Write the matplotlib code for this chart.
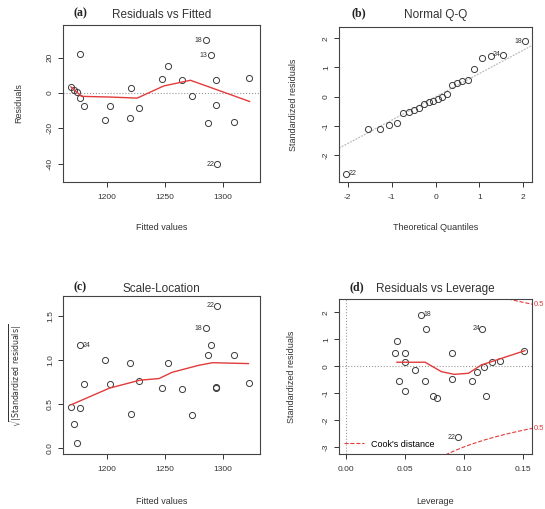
import numpy as np
import matplotlib
matplotlib.use('Agg')
from matplotlib import pyplot as plt
from statistics import NormalDist

plt.rcParams['font.family'] = ['Liberation Sans', 'DejaVu Sans']
plt.rcParams['axes.unicode_minus'] = False

# (a) residuals vs fitted
fitted = [1168.9, 1171.4, 1173.7, 1176.6, 1177.1, 1180.0, 1198.0, 1202.9,
          1220.0, 1221.0, 1227.4, 1247.4, 1252.3, 1264.3, 1273.1, 1285.0,
          1289.4, 1287.4, 1294.3, 1294.3, 1309.4, 1322.9, 1295.0]
resid = [3.4, 1.9, 0.4, 21.9, -2.9, -7.6, -15.2, -7.6, -14.3, 2.9, -8.6,
         8.0, 15.2, 7.2, -1.9, 29.9, 21.3, -17.1, 7.6, -6.9, -16.2, 8.6, -40.4]
# (c) sqrt(|standardized residuals|), same order as fitted
sqrt_std = [0.47, 0.27, 0.06, 1.17, 0.45, 0.73, 1.00, 0.73, 0.97, 0.39, 0.76,
            0.68, 0.97, 0.67, 0.37, 1.36, 1.17, 1.06, 0.68, 0.69, 1.06, 0.74, 1.62]
# (b) sorted standardized residuals
qq_std = [-2.64, -1.11, -1.11, -0.98, -0.92, -0.57, -0.54, -0.46, -0.38,
          -0.26, -0.20, -0.15, -0.08, 0.00, 0.08, 0.40, 0.46, 0.52, 0.57,
          0.94, 1.34, 1.40, 1.44, 1.90]
# (d) leverage and standardized residuals
leverage = [0.0432, 0.0420, 0.0497, 0.0497, 0.0446, 0.0497, 0.0588, 0.0640,
            0.0678, 0.0672, 0.0740, 0.0770, 0.0898, 0.0898, 0.1068, 0.1155,
            0.1110, 0.1170, 0.1240, 0.1310, 0.1190, 0.1510, 0.0950]
std_lev = [0.93, 0.48, 0.48, 0.15, -0.56, -0.91, -0.14, 1.92, 1.39, -0.53,
           -1.09, -1.17, 0.48, -0.47, -0.53, 1.39, -0.22, -0.04, 0.15, 0.21,
           -1.09, 0.56, -2.64]

# smoother lines
smooth_a_x = [1168.9, 1178, 1203, 1226, 1249, 1272, 1323]
smooth_a_y = [3.4, -1.9, -2.3, -2.9, 4.0, 7.2, -4.8]
smooth_c_x = [1168.9, 1202, 1228, 1245, 1256, 1279, 1291, 1322]
smooth_c_y = [0.49, 0.68, 0.77, 0.79, 0.86, 0.94, 0.97, 0.96]
smooth_d_x = [0.0432, 0.0672, 0.081, 0.092, 0.104, 0.115, 0.152]
smooth_d_y = [0.15, 0.15, -0.20, -0.30, -0.26, 0.05, 0.58]

# point labels: (index, text, side)
labels_a = [(15, '18', 'l'), (16, '13', 'l'), (22, '22', 'l')]
labels_c = [(22, '22', 'l'), (15, '18', 'l'), (3, '24', 'r')]
labels_b = [(0, '22', 'r'), (23, '18', 'l'), (22, '24', 'l')]
labels_d = [(7, '18', 'r'), (15, '24', 'l'), (22, '22', 'l')]

RED = '#e33b3b'
PT = dict(ls='none', marker='o', ms=4.4, mfc='none', mec='#3a3a3a', mew=0.7)


def style_axes(ax, xlab, ylab, ylab_x, xlab_y, ylab_size=6.5):
    for s in ax.spines.values():
        s.set_linewidth(0.8)
        s.set_color('#444444')
    ax.tick_params(length=3.5, width=0.7, labelsize=6, colors='#333333')
    ax.tick_params(axis='x', pad=5)
    ax.tick_params(axis='y', pad=3, labelrotation=90)
    for t in ax.get_yticklabels():
        t.set_va('center')
    ax.set_xlabel(xlab, fontsize=6.5, color='#333333')
    ax.set_ylabel(ylab, fontsize=ylab_size, color='#333333')
    ax.yaxis.set_label_coords(ylab_x, 0.5)
    ax.xaxis.set_label_coords(0.5, xlab_y)


def titles(ax, tag, title, ty, tagx):
    ax.text(0.5, ty, title, transform=ax.transAxes, ha='center', va='center',
            fontsize=8.5, color='#333333')
    ax.text(tagx, ty + 0.01, tag, transform=ax.transAxes, ha='center',
            va='center', fontsize=8.5, fontweight='bold',
            family='Liberation Serif', color='#222222')


def label_points(ax, xs, ys, labs, dx):
    for i, txt, side in labs:
        if side == 'l':
            ax.text(xs[i] - dx, ys[i], txt, ha='right', va='center',
                    fontsize=5, color='#333333')
        else:
            ax.text(xs[i] + dx, ys[i], txt, ha='left', va='center',
                    fontsize=5, color='#333333')


fig = plt.figure(figsize=(5.45, 5.09), dpi=100)

# (a)
ax = fig.add_axes([63 / 545, 1 - 182 / 509, 197 / 545, 157 / 509])
ax.axhline(0, color='#999999', ls=':', lw=0.8)
ax.plot(fitted, resid, **PT)
ax.plot(smooth_a_x, smooth_a_y, color=RED, lw=1.0)
label_points(ax, fitted, resid, labels_a, 2.5)
ax.set_xlim(1162, 1332)
ax.set_ylim(-50.4, 38.5)
ax.set_xticks([1200, 1250, 1300])
ax.set_yticks([20, 0, -20, -40])
style_axes(ax, 'Fitted values', 'Residuals', -0.203, -0.261)
titles(ax, '(a)', 'Residuals vs Fitted', 1.064, 0.091)

# (b)
ax = fig.add_axes([339 / 545, 1 - 182 / 509, 193 / 545, 155 / 509])
n = len(qq_std)
theo = [NormalDist().inv_cdf((i + 0.5) / n) for i in range(n)]
q1, q3 = np.quantile(qq_std, [0.25, 0.75])
t1, t3 = NormalDist().inv_cdf(0.25), NormalDist().inv_cdf(0.75)
slope = (q3 - q1) / (t3 - t1)
icpt = q1 - slope * t1
xl = np.array([-2.2, 2.2])
ax.plot(xl, icpt + slope * xl, color='#bbbbbb', lw=0.9, ls=(0, (1.5, 1)))
ax.plot(theo, qq_std, **PT)
label_points(ax, theo, qq_std, labels_b, 0.06)
ax.set_xlim(-2.2, 2.2)
ax.set_ylim(-2.93, 2.39)
ax.set_xticks([-2, -1, 0, 1, 2])
ax.set_yticks([2, 1, 0, -1, -2])
style_axes(ax, 'Theoretical Quantiles', 'Standardized residuals', -0.212, -0.265)
titles(ax, '(b)', 'Normal Q-Q', 1.077, 0.104)

# (c)
ax = fig.add_axes([63 / 545, 1 - 454 / 509, 197 / 545, 158 / 509])
ax.plot(fitted, sqrt_std, **PT)
ax.plot(smooth_c_x, smooth_c_y, color=RED, lw=1.0)
label_points(ax, fitted, sqrt_std, labels_c, 2.5)
ax.set_xlim(1162, 1332)
ax.set_ylim(-0.07, 1.73)
ax.set_xticks([1200, 1250, 1300])
ax.set_yticks([0.0, 0.5, 1.0, 1.5])
ax.set_yticklabels(['0.0', '0.5', '1.0', '1.5'])
style_axes(ax, 'Fitted values',
           r'$\sqrt{|\mathrm{Standardized\ residuals}|}$', -0.2, -0.272,
           ylab_size=5.6)
titles(ax, '(c)', 'Scale-Location', 1.044, 0.086)

# (d)
ax = fig.add_axes([339 / 545, 1 - 454 / 509, 193 / 545, 155 / 509])
ax.axhline(0, color='#999999', ls=':', lw=0.8)
ax.axvline(0, color='#999999', ls=':', lw=0.8)
hh = np.linspace(0.01, 0.16, 200)
p = 2
for lev in [0.5, 1.0]:
    cy = np.sqrt(lev * p * (1 - hh) / hh)
    ax.plot(hh, cy, color=RED, ls='--', lw=0.8)
    ax.plot(hh, -cy, color=RED, ls='--', lw=0.8)
y05 = np.sqrt(0.5 * p * (1 - 0.158) / 0.158)
ax.text(1.01, y05, '0.5', transform=ax.get_yaxis_transform(), color=RED,
        fontsize=5.5, va='center', clip_on=False)
ax.text(1.01, -y05, '0.5', transform=ax.get_yaxis_transform(), color=RED,
        fontsize=5.5, va='center', clip_on=False)
ax.plot(leverage, std_lev, **PT)
ax.plot(smooth_d_x, smooth_d_y, color=RED, lw=1.0)
label_points(ax, leverage, std_lev, labels_d, 0.0015)
ax.plot([], [], color=RED, ls='--', lw=0.8, label="Cook's distance")
ax.legend(loc='lower left', frameon=False, fontsize=6.5, handlelength=2.2,
          borderaxespad=0.2)
ax.set_xlim(-0.006, 0.158)
ax.set_ylim(-3.26, 2.5)
ax.set_xticks([0.00, 0.05, 0.10, 0.15])
ax.set_xticklabels(['0.00', '0.05', '0.10', '0.15'])
ax.set_yticks([2, 1, 0, -1, -2, -3])
style_axes(ax, 'Leverage', 'Standardized residuals', -0.223, -0.277)
titles(ax, '(d)', 'Residuals vs Leverage', 1.065, 0.093)

fig.savefig('out.png', dpi=100)
